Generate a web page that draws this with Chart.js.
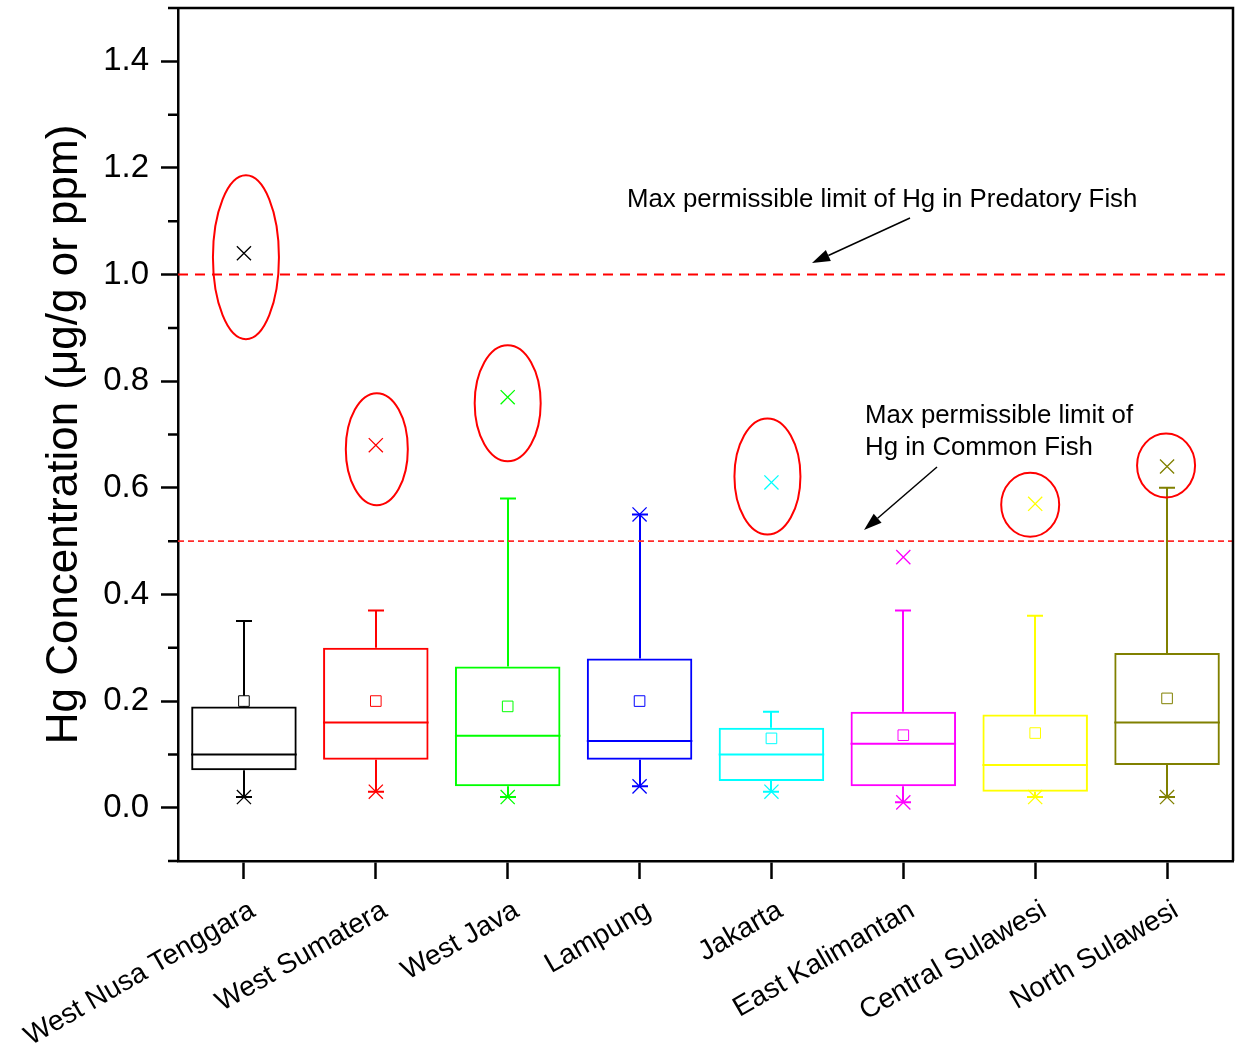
<!DOCTYPE html>
<html>
<head>
<meta charset="utf-8">
<script src="https://cdn.jsdelivr.net/npm/chart.js@4.4.1/dist/chart.umd.min.js"></script>
<style>
  html, body { margin: 0; padding: 0; background: #fff; }
  canvas { display: block; }
</style>
</head>
<body>
<canvas id="hgChart" width="1245" height="1047"></canvas>
<script>
// Mercury concentration in fish by province (box plot summary statistics, µg/g)
const regions = ['West Nusa Tenggara', 'West Sumatera', 'West Java', 'Lampung', 'Jakarta',
                 'East Kalimantan', 'Central Sulawesi', 'North Sulawesi'];
const q1Values      = [0.07, 0.09, 0.04, 0.09, 0.05, 0.04, 0.03, 0.08];
const medianValues  = [0.10, 0.16, 0.135, 0.125, 0.10, 0.12, 0.08, 0.16];
const q3Values      = [0.19, 0.30, 0.265, 0.28, 0.15, 0.18, 0.175, 0.29];
const meanValues    = [0.20, 0.20, 0.19, 0.20, 0.13, 0.136, 0.14, 0.205];
const whiskerLow    = [0.02, 0.03, 0.02, 0.04, 0.03, 0.01, 0.02, 0.02];
const whiskerHigh   = [0.35, 0.37, 0.58, 0.55, 0.18, 0.37, 0.36, 0.60];
const minValues     = [0.02, 0.03, 0.02, 0.04, 0.03, 0.01, 0.02, 0.02];
const maxValues     = [1.04, 0.68, 0.77, 0.55, 0.61, 0.47, 0.57, 0.64];
const boxColors     = ['#000000', '#ff0000', '#00ff00', '#0000ff', '#00ffff', '#ff00ff', '#ffff00', '#808000'];

const yMajorTicks   = [0.0, 0.2, 0.4, 0.6, 0.8, 1.0, 1.2, 1.4];
const yTickLabels   = ['0.0', '0.2', '0.4', '0.6', '0.8', '1.0', '1.2', '1.4'];
const yMinorTicks   = [-0.1, 0.1, 0.3, 0.5, 0.7, 0.9, 1.1, 1.3, 1.5];

const limitPredatory = 1.0;   // µg/g, predatory fish
const limitCommon    = 0.5;   // µg/g, common fish

// Provinces whose maximum is circled
const circledRegions = [0, 1, 2, 4, 6, 7];

const FONT = '"Liberation Sans", Arial, Helvetica, sans-serif';

function drawArrow(ctx, x1, y1, x2, y2) {
  const ang = Math.atan2(y2 - y1, x2 - x1);
  const headLen = 18, headHalf = 6;
  const bx = x2 - headLen * Math.cos(ang), by = y2 - headLen * Math.sin(ang);
  ctx.beginPath();
  ctx.moveTo(x1, y1);
  ctx.lineTo(bx, by);
  ctx.stroke();
  ctx.beginPath();
  ctx.moveTo(x2, y2);
  ctx.lineTo(bx + headHalf * Math.sin(ang), by - headHalf * Math.cos(ang));
  ctx.lineTo(bx - headHalf * Math.sin(ang), by + headHalf * Math.cos(ang));
  ctx.closePath();
  ctx.fill();
}

// Medians, whiskers, caps and limit lines drawn beneath the point markers
const boxParts = {
  id: 'boxParts',
  beforeDatasetsDraw(chart) {
    const { ctx, chartArea, scales: { y } } = chart;
    const boxes = chart.getDatasetMeta(0).data;
    ctx.save();
    ctx.lineCap = 'butt';
    regions.forEach((_, i) => {
      const bar = boxes[i];
      const cx = Math.round(bar.x);
      const half = bar.width / 2;
      ctx.strokeStyle = boxColors[i];
      ctx.lineWidth = 2;
      const med = y.getPixelForValue(medianValues[i]);
      ctx.beginPath();
      ctx.moveTo(bar.x - half, med); ctx.lineTo(bar.x + half, med);
      const top = y.getPixelForValue(q3Values[i]);
      const bot = y.getPixelForValue(q1Values[i]);
      const hi = y.getPixelForValue(whiskerHigh[i]);
      const lo = y.getPixelForValue(whiskerLow[i]);
      ctx.moveTo(cx, top); ctx.lineTo(cx, hi);
      ctx.moveTo(cx, bot); ctx.lineTo(cx, lo);
      ctx.moveTo(cx - 8, hi); ctx.lineTo(cx + 8, hi);
      ctx.moveTo(cx - 8, lo); ctx.lineTo(cx + 8, lo);
      ctx.stroke();
    });

    // permissible limit lines
    const yP = y.getPixelForValue(limitPredatory);
    ctx.strokeStyle = '#ff0000';
    ctx.lineWidth = 2;
    ctx.setLineDash([10, 7]);
    ctx.beginPath();
    ctx.moveTo(chartArea.left, yP); ctx.lineTo(chartArea.right, yP);
    ctx.stroke();
    const yC = y.getPixelForValue(limitCommon);
    ctx.strokeStyle = '#ff2a2a';
    ctx.lineWidth = 1.6;
    ctx.setLineDash([6, 4]);
    ctx.beginPath();
    ctx.moveTo(chartArea.left, yC); ctx.lineTo(chartArea.right, yC);
    ctx.stroke();
    ctx.restore();
  }
};

// Rings around the highest values, frame, minor ticks and the limit labels
const overlay = {
  id: 'overlay',
  afterDraw(chart) {
    const { ctx, chartArea, scales: { x, y } } = chart;
    ctx.save();

    // ellipses around the maxima
    const ringShape = {
      0: { dx: 2, dy: 4, rx: 33, ry: 82 },
      1: { dx: 1, dy: 4, rx: 31, ry: 56 },
      2: { dx: 0, dy: 6, rx: 33, ry: 58 },
      4: { dx: -4, dy: -6, rx: 33, ry: 58 },
      6: { dx: -5, dy: 1, rx: 29, ry: 32 },
      7: { dx: -1, dy: -1, rx: 29, ry: 32 }
    };
    ctx.strokeStyle = '#ff0000';
    ctx.lineWidth = 2;
    circledRegions.forEach(i => {
      const s = ringShape[i];
      const px = x.getPixelForValue(i) + s.dx;
      const py = y.getPixelForValue(maxValues[i]) + s.dy;
      ctx.beginPath();
      ctx.ellipse(px, py, s.rx, s.ry, 0, 0, Math.PI * 2);
      ctx.stroke();
    });

    // frame
    ctx.strokeStyle = '#000';
    ctx.lineWidth = 2.5;
    ctx.beginPath();
    ctx.moveTo(chartArea.left, chartArea.top);
    ctx.lineTo(chartArea.right, chartArea.top);
    ctx.lineTo(chartArea.right, chartArea.bottom);
    ctx.stroke();

    // minor y ticks
    ctx.beginPath();
    yMinorTicks.forEach(v => {
      const py = y.getPixelForValue(v);
      ctx.moveTo(chartArea.left - 10, py);
      ctx.lineTo(chartArea.left, py);
    });
    ctx.stroke();

    // limit labels and arrows
    ctx.fillStyle = '#000';
    ctx.font = '25.8px ' + FONT;
    ctx.textAlign = 'left';
    ctx.textBaseline = 'alphabetic';
    ctx.fillText('Max permissible limit of Hg in Predatory Fish', 627, 207);
    ctx.fillText('Max permissible limit of', 865, 423);
    ctx.fillText('Hg in Common Fish', 865, 455);
    ctx.strokeStyle = '#000';
    ctx.lineWidth = 1.5;
    drawArrow(ctx, 910, 218, 812, 263);
    drawArrow(ctx, 937, 467, 864, 530);

    ctx.restore();
  }
};

new Chart(document.getElementById('hgChart'), {
  type: 'bar',
  data: {
    labels: regions,
    datasets: [
      {
        label: 'IQR',
        data: regions.map((_, i) => [q1Values[i], q3Values[i]]),
        backgroundColor: 'rgba(0,0,0,0)',
        borderColor: boxColors,
        borderWidth: 2,
        borderSkipped: false,
        barPercentage: 0.8,
        categoryPercentage: 1.0,
        order: 3
      },
      {
        type: 'line',
        label: 'Mean',
        data: meanValues,
        showLine: false,
        pointStyle: 'rect',
        pointRadius: 7.5,
        pointBorderWidth: 1,
        pointBorderColor: boxColors,
        pointBackgroundColor: '#ffffff',
        order: 2
      },
      {
        type: 'line',
        label: 'Min',
        data: minValues,
        showLine: false,
        pointStyle: 'crossRot',
        pointRadius: 10,
        pointBorderWidth: 1.3,
        pointBorderColor: boxColors,
        order: 1
      },
      {
        type: 'line',
        label: 'Max',
        data: maxValues,
        showLine: false,
        pointStyle: 'crossRot',
        pointRadius: 10,
        pointBorderWidth: 1.3,
        pointBorderColor: boxColors,
        order: 1
      }
    ]
  },
  options: {
    responsive: false,
    animation: false,
    devicePixelRatio: 1,
    events: [],
    layout: { autoPadding: false, padding: { top: 8, right: 12, left: 0, bottom: 0 } },
    plugins: { legend: { display: false }, tooltip: { enabled: false } },
    scales: {
      x: {
        type: 'category',
        offset: true,
        grid: { display: true, offset: false, drawOnChartArea: false, drawTicks: true,
                tickLength: 18, tickWidth: 2.5, tickColor: '#000' },
        border: { display: true, color: '#000', width: 2.5 },
        ticks: { color: '#000', font: { family: FONT, size: 28 }, maxRotation: 30, minRotation: 30,
                 autoSkip: false, padding: 15, labelOffset: 9 },
        afterFit(s) {
          s.height = 186;
          s.paddingLeft = 0; s.paddingRight = 0;
        }
      },
      y: {
        min: -0.1,
        max: 1.5,
        afterBuildTicks(s) {
          s.ticks = yMajorTicks.map(v => ({ value: v }));
        },
        grid: { display: true, drawOnChartArea: false, drawTicks: true,
                tickLength: 17, tickWidth: 2.5, tickColor: '#000' },
        border: { display: true, color: '#000', width: 2.5 },
        ticks: {
          color: '#000',
          font: { family: FONT, size: 33 },
          padding: 12,
          autoSkip: false,
          callback(v) {
            const k = yMajorTicks.findIndex(t => Math.abs(t - v) < 1e-6);
            return k >= 0 ? yTickLabels[k] : '';
          }
        },
        title: {
          display: true,
          text: 'Hg Concentration (\u03bcg/g or ppm)',
          color: '#000',
          font: { family: FONT, size: 44 },
          padding: { top: 38, bottom: 0 }
        },
        afterFit(s) {
          s.width = 178;
          s.paddingTop = 0; s.paddingBottom = 0;
        }
      }
    }
  },
  plugins: [boxParts, overlay]
});
</script>
</body>
</html>
